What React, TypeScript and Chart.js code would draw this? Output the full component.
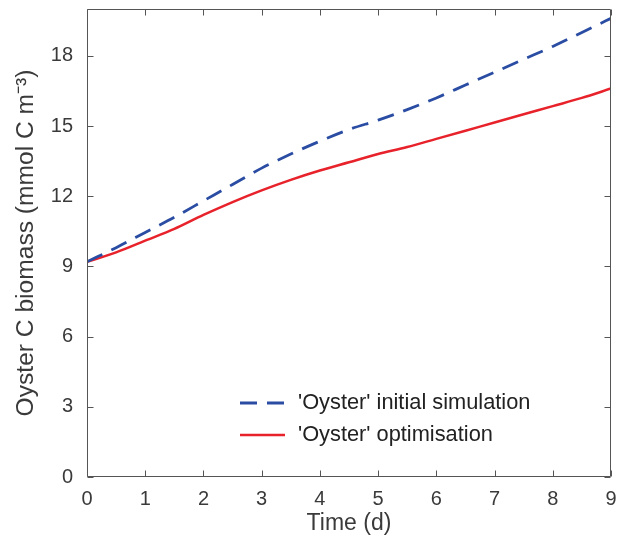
import React, { useEffect, useRef } from 'react';
import { Chart, registerables } from 'chart.js';

Chart.register(...registerables);

const days = [0, 0.5, 1, 1.5, 2, 2.5, 3, 3.5, 4, 4.5, 5, 5.5, 6, 6.5, 7, 7.5, 8, 8.5, 9];
const initialSimulation = [9.2, 9.8, 10.45, 11.1, 11.8, 12.5, 13.2, 13.8, 14.35, 14.85, 15.25, 15.7, 16.2, 16.75, 17.3, 17.85, 18.4, 19.0, 19.6];
const optimisation = [9.2, 9.6, 10.1, 10.6, 11.2, 11.75, 12.25, 12.7, 13.1, 13.45, 13.8, 14.1, 14.45, 14.8, 15.15, 15.5, 15.85, 16.2, 16.6];
const xTicks = [0, 1, 2, 3, 4, 5, 6, 7, 8, 9];
const yTicks = [0, 3, 6, 9, 12, 15, 18];
const seriesLabels = ["'Oyster' initial simulation", "'Oyster' optimisation"];
const xTitle = 'Time (d)';
const yTitle = 'Oyster C biomass (mmol C m\u207B\u00B3)';

const FONT = '"Liberation Sans", Arial, Helvetica, sans-serif';
const AXIS_COLOR = '#555555';
const TEXT_COLOR = '#3a3a3a';

const boxPlugin = {
  id: 'matlabBox',
  afterDatasetsDraw(chart: any) {
    const { ctx, chartArea, scales } = chart;
    const l = Math.round(chartArea.left) + 0.5;
    const r = Math.round(chartArea.right) - 0.5;
    const t = Math.round(chartArea.top) + 0.5;
    const b = Math.round(chartArea.bottom) - 0.5;
    ctx.save();
    ctx.strokeStyle = AXIS_COLOR;
    ctx.lineWidth = 1;
    ctx.beginPath();
    ctx.rect(l, t, r - l, b - t);
    const tl = 6;
    xTicks.forEach((v) => {
      const px = Math.round(scales.x.getPixelForValue(v)) + 0.5;
      ctx.moveTo(px, b);
      ctx.lineTo(px, b - tl);
      ctx.moveTo(px, t);
      ctx.lineTo(px, t + tl);
    });
    yTicks.forEach((v) => {
      const py = Math.round(scales.y.getPixelForValue(v)) + 0.5;
      ctx.moveTo(l, py);
      ctx.lineTo(l + tl, py);
      ctx.moveTo(r, py);
      ctx.lineTo(r - tl, py);
    });
    ctx.stroke();

    // legend
    const lx0 = chartArea.left + 153;
    const lx1 = chartArea.left + 198;
    const tx = chartArea.left + 211;
    const rowsY = [chartArea.bottom - 74, chartArea.bottom - 42];
    chart.data.datasets.forEach((ds: any, i: number) => {
      const y = rowsY[i];
      ctx.beginPath();
      ctx.strokeStyle = ds.borderColor;
      ctx.lineWidth = ds.borderWidth;
      ctx.setLineDash(ds.borderDash || []);
      ctx.moveTo(lx0, y);
      ctx.lineTo(lx1, y);
      ctx.stroke();
      ctx.setLineDash([]);
      ctx.fillStyle = '#222222';
      ctx.font = `21.8px ${FONT}`;
      ctx.textBaseline = 'middle';
      ctx.textAlign = 'left';
      ctx.fillText(ds.label, tx, y);
    });
    ctx.restore();
  },
};

export default function App() {
  const canvasRef = useRef<HTMLCanvasElement | null>(null);

  useEffect(() => {
    if (!canvasRef.current) return;
    const chart = new Chart(canvasRef.current, {
      type: 'line',
      data: {
        datasets: [
          {
            label: seriesLabels[0],
            data: days.map((d, i) => ({ x: d, y: initialSimulation[i] })),
            borderColor: '#2a4da3',
            borderWidth: 2.8,
            borderDash: [17, 10],
            pointRadius: 0,
            cubicInterpolationMode: 'monotone',
            fill: false,
          },
          {
            label: seriesLabels[1],
            data: days.map((d, i) => ({ x: d, y: optimisation[i] })),
            borderColor: '#e8222b',
            borderWidth: 2.5,
            pointRadius: 0,
            cubicInterpolationMode: 'monotone',
            fill: false,
          },
        ],
      },
      options: {
        animation: false,
        responsive: true,
        maintainAspectRatio: false,
        layout: { padding: { left: 0, top: 9, right: 17, bottom: 0 } },
        plugins: {
          legend: { display: false },
          tooltip: { enabled: false },
        },
        scales: {
          x: {
            type: 'linear',
            min: 0,
            max: 9,
            grid: { display: false, drawTicks: false },
            border: { display: false },
            afterBuildTicks: (scale: any) => {
              scale.ticks = xTicks.map((v) => ({ value: v }));
            },
            afterFit: (scale: any) => {
              scale.height = 68;
              scale.paddingLeft = 0;
              scale.paddingRight = 0;
            },
            ticks: {
              padding: 10,
              color: TEXT_COLOR,
              font: { size: 20, family: FONT },
              maxRotation: 0,
              callback: (v: any) => String(v),
            },
            title: {
              display: true,
              text: xTitle,
              color: TEXT_COLOR,
              font: { size: 23, family: FONT },
              padding: { top: 0, bottom: 8 },
            },
          },
          y: {
            type: 'linear',
            min: 0,
            max: 20,
            grid: { display: false, drawTicks: false },
            border: { display: false },
            afterBuildTicks: (scale: any) => {
              scale.ticks = yTicks.map((v) => ({ value: v }));
            },
            afterFit: (scale: any) => {
              scale.width = 87;
              scale.paddingTop = 0;
              scale.paddingBottom = 0;
            },
            ticks: {
              padding: 14,
              color: TEXT_COLOR,
              font: { size: 20, family: FONT },
              callback: (v: any) => String(v),
            },
            title: {
              display: true,
              text: yTitle,
              color: TEXT_COLOR,
              font: { size: 24.6, family: FONT },
              padding: { top: 11, bottom: 0 },
            },
          },
        },
      },
      plugins: [boxPlugin],
    });
    return () => chart.destroy();
  }, []);

  return (
    <div style={{ position: 'fixed', left: 0, top: 0, width: 628, height: 545, background: '#fff' }}>
      <canvas ref={canvasRef} />
    </div>
  );
}
